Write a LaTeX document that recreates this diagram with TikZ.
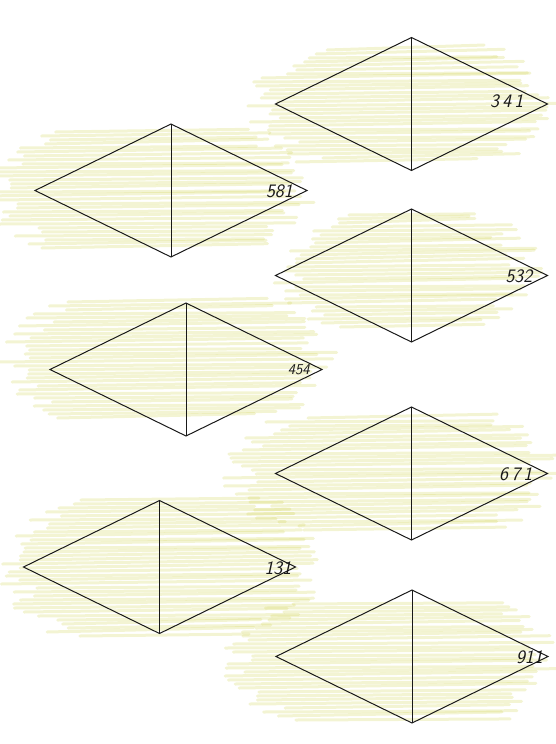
\documentclass[tikz,border=0pt]{standalone}
\usepackage{tikz}
\usetikzlibrary{shapes.geometric, positioning}
\definecolor{crayonyellow}{RGB}{208,210,80}
\definecolor{pencil}{RGB}{25,25,25}

% x1, x2, top y, number of strokes
\newcommand{\crayonpatch}[4]{%
  \foreach \i in {0,...,#4}{%
    \pgfmathsetmacro{\yy}{#3+4*\i}
    \pgfmathsetmacro{\ct}{(2*\i/#4-1)*(2*\i/#4-1)}
    \pgfmathsetmacro{\xa}{#1+50*\ct+18*rand}
    \pgfmathsetmacro{\xb}{#2-50*\ct+18*rand}
    \draw[crayon] (\xa,\yy) -- (\xb,\yy-3+2*rand);
  }}

\begin{document}
\begin{tikzpicture}[x=1pt, y=-1pt,
    rhombus/.style={draw=pencil, shape=diamond, line width=1pt,
                    minimum width=272pt, minimum height=133pt,
                    inner sep=0pt, outer sep=0pt},
    crayon/.style={line width=3pt, draw=crayonyellow, opacity=0.25, line cap=round},
    num/.style={font=\sffamily\itshape\fontsize{19}{19}\selectfont, text=pencil, inner sep=1pt}
]
    \useasboundingbox (0,0) rectangle (555,744);
    \pgfmathsetseed{17}

    % crayon shading behind the figures
    \crayonpatch{262}{545}{50}{28}
    \crayonpatch{0}{300}{132}{29}
    \crayonpatch{285}{525}{215}{28}
    \crayonpatch{15}{320}{302}{29}
    \crayonpatch{240}{545}{418}{28}
    \crayonpatch{15}{310}{500}{34}
    \crayonpatch{240}{545}{604}{29}

    % diamonds
    \node[rhombus] (d341) at (411.5,104) {};
    \node[rhombus] (d581) at (171,190.5) {};
    \node[rhombus] (d532) at (411.5,275.5) {};
    \node[rhombus] (d454) at (186,369.5) {};
    \node[rhombus] (d671) at (411.5,473.5) {};
    \node[rhombus] (d131) at (159.5,567) {};
    \node[rhombus] (d911) at (412,656.5) {};

    \foreach \d in {d341,d581,d532,d454,d671,d131,d911}
        \draw[draw=pencil, line width=1pt] (\d.north) -- (\d.south);

    % numbers
    \node[num, left=23pt of d341.east, yshift=3pt] (n341) {3\,4\,1};
    \node[num, left=13pt of d581.east, yshift=-1pt] (n581) {581};
    \node[num, left=14pt of d532.east, yshift=-1pt] (n532) {532};
    \node[num, left=11pt of d454.east, font=\sffamily\itshape\fontsize{15}{15}\selectfont] (n454) {454};
    \node[num, left=14pt of d671.east, yshift=-1pt] (n671) {6\,7\,1};
    \node[num, left=3pt of d131.east, yshift=-1pt] (n131) {131};
    \node[num, left=4pt of d911.east, yshift=-1pt] (n911) {911};
\end{tikzpicture}
\end{document}
